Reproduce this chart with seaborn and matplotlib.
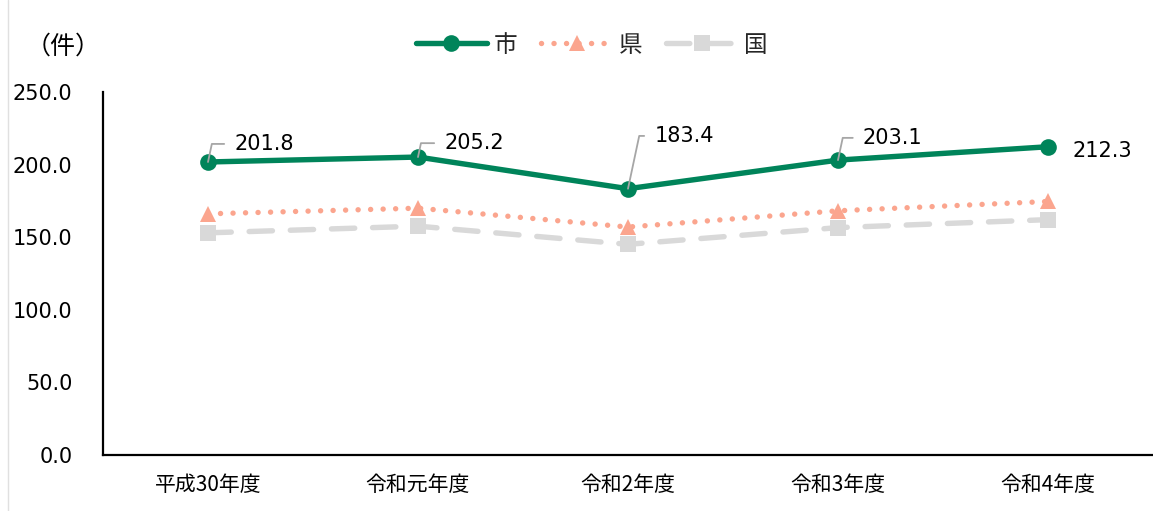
import matplotlib
matplotlib.use("Agg")
import matplotlib.pyplot as plt
from matplotlib.lines import Line2D
import seaborn as sns
import pandas as pd

# Data
years = ["平成30年度", "令和元年度", "令和2年度", "令和3年度", "令和4年度"]
city = [201.8, 205.2, 183.4, 203.1, 212.3]
prefecture = [166.1, 170.0, 157.0, 168.2, 174.6]
national = [153.0, 157.6, 145.1, 156.6, 162.1]
series_names = ["市", "県", "国"]
y_ticks = [0, 50, 100, 150, 200, 250]

sns.set_theme(style="white")
plt.rcParams["font.family"] = ["DejaVu Sans", "Noto Sans CJK JP"]

df = pd.DataFrame({"年度": list(range(len(years))) * 3,
                   "件数": city + prefecture + national,
                   "区分": [series_names[0]] * 5 + [series_names[1]] * 5 + [series_names[2]] * 5})

fig = plt.figure(figsize=(11.53, 5.11), dpi=100)
ax = fig.add_axes([103 / 1153, 56 / 511, 1 - 103 / 1153, (455 - 92) / 511])

green = "#00845a"
salmon = "#fba58e"
grey = "#d9d9d9"
lw = 3.9

# national (dashed, squares)
sns.lineplot(data=df[df["区分"] == "国"], x="年度", y="件数", ax=ax, color=grey,
             linewidth=lw, marker="s", markersize=12, markeredgewidth=0,
             legend=False, zorder=2)
ax.lines[-1].set_dashes([4.3, 3.3])
ax.lines[-1].set_dash_capstyle("round")

# prefecture (dotted, triangles)
sns.lineplot(data=df[df["区分"] == "県"], x="年度", y="件数", ax=ax, color=salmon,
             linewidth=lw, marker="^", markersize=11, markeredgewidth=0,
             legend=False, zorder=3)
ax.lines[-1].set_dashes([0.01, 2.3])
ax.lines[-1].set_dash_capstyle("round")

# city (solid, circles)
sns.lineplot(data=df[df["区分"] == "市"], x="年度", y="件数", ax=ax, color=green,
             linewidth=lw, marker="o", markersize=12, markeredgewidth=0,
             legend=False, zorder=4)
ax.lines[-1].set_solid_capstyle("round")

ax.set_xlim(-0.5, len(years) - 0.5)
ax.set_ylim(0, 250)
ax.set_yticks(y_ticks)
ax.set_yticklabels([f"{v:.1f}" for v in y_ticks], fontsize=15, color="#000000")
ax.set_xticks(range(len(years)))
ax.set_xticklabels(years, fontsize=15, color="#000000", family=["Noto Sans CJK JP"])
ax.tick_params(axis="y", length=0, pad=22)
ax.tick_params(axis="x", length=0, pad=14)
ax.set_xlabel("")
ax.set_ylabel("")
for s in ["top", "right"]:
    ax.spines[s].set_visible(False)
for s in ["left", "bottom"]:
    ax.spines[s].set_color("#000000")
    ax.spines[s].set_linewidth(1.6)
ax.grid(False)

# value labels for the city series
offsets = [(19, 13), (19, 10), (19, 38), (18, 16), (18, -3)]
for i, (v, (dx, dy)) in enumerate(zip(city, offsets)):
    if i < len(city) - 1:
        ax.annotate(f"{v:.1f}", xy=(i, v), xytext=(dx, dy), textcoords="offset points",
                    fontsize=15, color="#000000", ha="left", va="center",
                    arrowprops=dict(arrowstyle="-", color="#a6a6a6", lw=1.3,
                                    connectionstyle="angle,angleA=0,angleB=78,rad=0",
                                    relpos=(0, 0.5), shrinkA=5, shrinkB=0),
                    zorder=5)
    else:
        ax.annotate(f"{v:.1f}", xy=(i, v), xytext=(dx, dy), textcoords="offset points",
                    fontsize=15, color="#000000", ha="left", va="center", zorder=5)

# unit label
fig.text(26 / 1153, 1 - 47 / 511, "（件）", fontsize=18, ha="left", va="center",
         family=["Noto Sans CJK JP"], color="#000000")

# legend
handles = [
    Line2D([], [], color=green, lw=lw, marker="o", markersize=12, markeredgewidth=0,
           solid_capstyle="round"),
    Line2D([], [], color=salmon, lw=lw, marker="^", markersize=11, markeredgewidth=0,
           dashes=[0.01, 2.3], dash_capstyle="round"),
    Line2D([], [], color=grey, lw=lw, marker="s", markersize=12, markeredgewidth=0,
           dashes=[4.3, 3.3], dash_capstyle="round"),
]
leg = fig.legend(handles, series_names, loc="center", bbox_to_anchor=(592 / 1153, 1 - 45 / 511),
                 ncol=3, frameon=False, handlelength=3.0, handletextpad=0.3,
                 columnspacing=1.0, prop={"family": ["Noto Sans CJK JP"], "size": 17})

# thin frame line at the left edge
fig.add_artist(Line2D([8 / 1153, 8 / 1153], [0, 1], transform=fig.transFigure,
                      color="#e0e0e0", lw=1))

fig.savefig("out.png", dpi=100)
